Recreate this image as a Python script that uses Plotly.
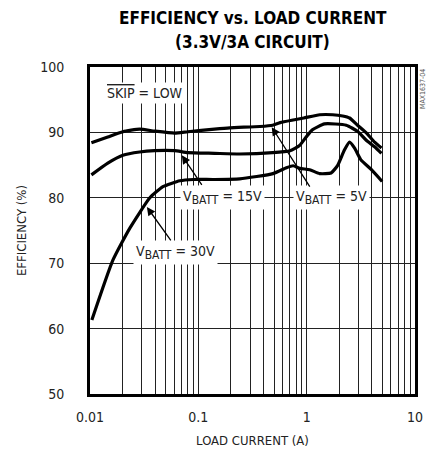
import math
import plotly.graph_objects as go

# ---- data ----
x_5v = [0.0103, 0.0146, 0.0201, 0.0287, 0.0394, 0.0604, 0.080, 0.141, 0.195, 0.37, 0.485, 0.57, 0.75,
        0.94, 1.32, 1.74, 2.15, 2.49, 2.95, 3.57, 4.24, 4.91]
y_5v = [88.4, 89.3, 90.1, 90.5, 90.2, 89.9, 90.1, 90.5, 90.7, 90.9, 91.1, 91.5, 91.9,
        92.2, 92.7, 92.7, 92.5, 92.2, 91.1, 89.9, 88.5, 87.6]

x_15v = [0.0103, 0.0146, 0.0201, 0.0287, 0.0394, 0.0604, 0.080, 0.141, 0.241, 0.485, 0.7, 0.86,
         0.99, 1.13, 1.46, 2.32, 2.98, 3.55, 4.24, 4.9]
y_15v = [83.5, 85.3, 86.5, 87.0, 87.2, 87.2, 86.9, 86.8, 86.7, 86.9, 87.2, 88.0,
         89.3, 90.4, 91.3, 91.1, 90.1, 88.8, 87.8, 86.8]

x_30v = [0.0104, 0.0163, 0.0234, 0.0357, 0.0471, 0.0675, 0.09, 0.141, 0.241, 0.489, 0.65, 0.75,
         0.862, 1.066, 1.318, 1.68, 1.94, 2.23, 2.49, 2.77, 3.17, 3.96, 4.97]
y_30v = [61.3, 70.5, 75.4, 80.0, 81.7, 82.6, 82.8, 82.8, 82.9, 83.7, 84.6, 84.9,
         84.5, 84.3, 83.7, 83.8, 85.0, 87.3, 88.5, 87.6, 85.8, 84.3, 82.5]

x_tickvals = [0.01, 0.1, 1, 10]
x_ticktext = ["0.01", "0.1", "1", "10"]
y_tickvals = [50, 60, 70, 80, 90, 100]

FONT = "DejaVu Sans Condensed, Liberation Sans Narrow, sans-serif"
GRID = "#222"

fig = go.Figure()
for xs, ys in [(x_5v, y_5v), (x_15v, y_15v), (x_30v, y_30v)]:
    fig.add_trace(go.Scatter(x=xs, y=ys, mode="lines",
                             line=dict(color="black", width=3.2, shape="spline", smoothing=0.5),
                             showlegend=False, hoverinfo="skip"))

minor_vals = [m * 10 ** e for e in (-2, -1, 0) for m in range(2, 10)]

fig.update_xaxes(type="log", range=[-2, 1], tickvals=x_tickvals, ticktext=x_ticktext,
                 showgrid=True, gridcolor=GRID, gridwidth=1,
                 minor=dict(tickvals=minor_vals, showgrid=True, gridcolor=GRID, gridwidth=1, ticks=""),
                 showline=True, linecolor="black", linewidth=3, mirror=True,
                 ticks="", ticklabelstandoff=8, automargin=False,
                 tickfont=dict(family=FONT, size=14, color="#222"),
                 title=dict(text="LOAD CURRENT (A)", font=dict(family=FONT, size=13, color="#222"), standoff=13),
                 zeroline=False)
fig.update_yaxes(range=[50, 100], tickvals=y_tickvals,
                 showgrid=True, gridcolor=GRID, gridwidth=1,
                 showline=True, linecolor="black", linewidth=3, mirror=True,
                 ticks="", ticklabelstandoff=20, automargin=False,
                 tickfont=dict(family=FONT, size=14, color="#222"),
                 title=dict(text="EFFICIENCY (%)", font=dict(family=FONT, size=13, color="#222"), standoff=11),
                 zeroline=False)

ann_font = dict(family=FONT, size=14, color="#222")
SUB = "V<sub><span style='font-size:12px'>BATT</span></sub>"
anns = [
    dict(x=-1.49, y=96.1, text='<span style="text-decoration:overline">SKIP</span> = LOW'),
    dict(x=-0.78, y=80.0, text=SUB + " = 15V"),
    dict(x=0.23, y=80.0, text=SUB + " = 5V"),
    dict(x=-1.21, y=71.6, text=SUB + " = 30V"),
]
for a in anns:
    fig.add_annotation(x=a["x"], y=a["y"], text=a["text"], showarrow=False,
                       bgcolor="white", borderpad=2, font=ann_font, xref="x", yref="y")

# arrows (tip at curve, tail toward label)
arrows = [
    (0.0335, 78.6, 25, 35),
    (0.0704, 86.5, 21, 31),
    (0.476, 90.8, 39, 61),
]
for xt, yt, axp, ayp in arrows:
    fig.add_annotation(x=math.log10(xt), y=yt, ax=axp, ay=ayp, text="", showarrow=True,
                       arrowhead=2, arrowsize=1.3, arrowwidth=1.3, arrowcolor="black",
                       xref="x", yref="y")

fig.add_annotation(text="MAX1637-04", x=1, y=1, xref="paper", yref="paper", xanchor="left", yanchor="top",
                   xshift=2, showarrow=False, textangle=-90,
                   font=dict(family=FONT, size=7, color="#555"))

# title as two lines
fig.add_annotation(text="<b>EFFICIENCY vs. LOAD CURRENT</b>", x=0.5, xref="paper", y=1, yref="paper",
                   yanchor="middle", yshift=49, showarrow=False,
                   font=dict(family=FONT, size=17, color="black"))
fig.add_annotation(text="<b>(3.3V/3A CIRCUIT)</b>", x=0.5, xref="paper", y=1, yref="paper",
                   yanchor="middle", yshift=25, showarrow=False,
                   font=dict(family=FONT, size=17, color="black"))

fig.update_layout(
    width=427, height=453,
    margin=dict(l=90, r=12, t=67, b=59),
    paper_bgcolor="white", plot_bgcolor="white",
)

# remove the page's default body margin so the figure fills the window exactly
fig.write_html("out.html", config={"displayModeBar": False},
               post_script="document.body.style.margin='0';document.body.style.overflow='hidden';")
